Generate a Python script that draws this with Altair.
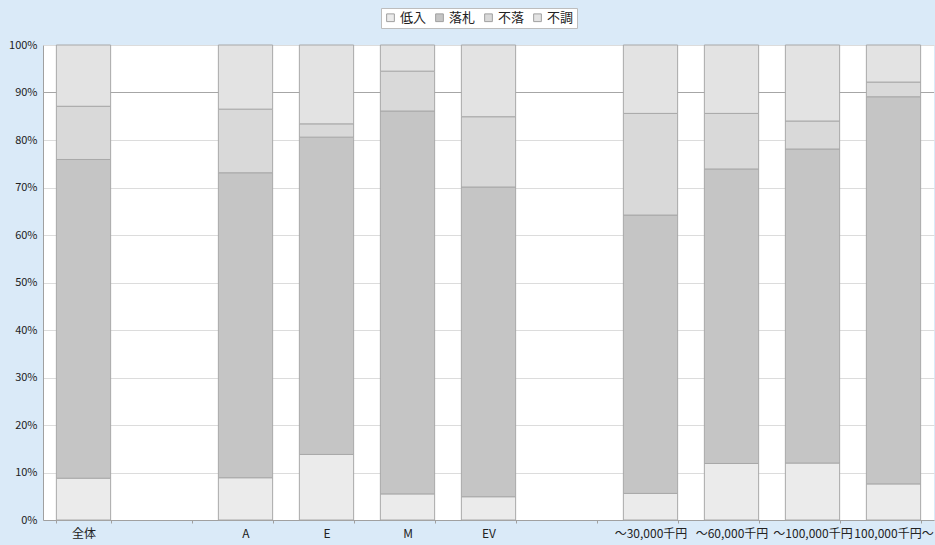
import altair as alt
import pandas as pd

# Categories along the x axis (blank slots separate the groups)
categories = ["全体", " ", "A", "E", "M", "EV", "  ",
              "～30,000千円", "～60,000千円", "～100,000千円", "100,000千円～"]
series = ["低入", "落札", "不落", "不調"]

# Shares per category (%), bottom to top: 低入, 落札, 不落, 不調
bar_categories = ["全体", "A", "E", "M", "EV",
                  "～30,000千円", "～60,000千円", "～100,000千円", "100,000千円～"]
teinyu = [8.8, 8.9, 13.8, 5.5, 4.9, 5.6, 11.9, 12.0, 7.6]
rakusatsu = [67.1, 64.2, 66.8, 80.6, 65.2, 58.6, 62.0, 66.1, 81.5]
furaku = [11.2, 13.4, 2.8, 8.4, 14.8, 21.4, 11.7, 5.9, 3.1]
fuchou = [12.9, 13.5, 16.6, 5.5, 15.1, 14.4, 14.4, 16.0, 7.8]

colors = ["#EBEBEB", "#C5C5C5", "#D9D9D9", "#E3E3E3"]

rows = []
for i, cat in enumerate(bar_categories):
    for k, (name, vals) in enumerate(zip(series, [teinyu, rakusatsu, furaku, fuchou])):
        rows.append({"category": cat, "series": name, "order": k, "share": vals[i] / 100})
df = pd.DataFrame(rows)

font = "Noto Sans CJK JP"

y_axis = alt.Axis(title=None, format=".0%", values=[i / 10 for i in range(11)],
                  labelFont=font, labelFontSize=11, labelColor="#222222",
                  ticks=False, labelPadding=6, domainColor="#A0A0A0",
                  grid=True, gridColor="#DCDCDC")
y_scale = alt.Scale(domain=[0, 1], nice=False)

# Emphasised 90% reference line, drawn beneath the bars
ref = alt.Chart(pd.DataFrame({"share": [0.9]})).mark_rule(color="#A6A6A6", strokeWidth=1).encode(
    y=alt.Y("share:Q", scale=y_scale, axis=y_axis)
)

bars = alt.Chart(df).mark_bar(stroke="#A8A8A8", strokeWidth=1).encode(
    x=alt.X("category:N", sort=categories,
            scale=alt.Scale(domain=categories, paddingInner=0.33, paddingOuter=0.165),
            axis=alt.Axis(title=None, labelAngle=0, labelFont=font, labelFontSize=12,
                          labelColor="#222222", labelPadding=5, tickBand="extent",
                          tickSize=3, tickColor="#A0A0A0", domainColor="#A0A0A0")),
    y=alt.Y("share:Q", stack="zero", scale=y_scale, axis=y_axis),
    color=alt.Color("series:N", sort=series,
                    scale=alt.Scale(domain=series, range=colors),
                    legend=alt.Legend(title=None, orient="none", legendX=338, legendY=-37,
                                      direction="horizontal", fillColor="white",
                                      strokeColor="#BDBDBD", padding=3,
                                      symbolType="square", symbolSize=60,
                                      symbolStrokeColor="#A0A0A0", symbolStrokeWidth=1,
                                      labelFont=font, labelFontSize=13, labelColor="#222222",
                                      columnPadding=6, labelOffset=3)),
    order=alt.Order("order:Q"),
)

chart = alt.layer(ref, bars).properties(
    width=891, height=475,
    background="#DAEAF8",
    padding={"left": 43, "top": 45, "right": 1, "bottom": 25},
    autosize=alt.AutoSizeParams(type="none"),
).configure_view(fill="white", stroke=None)

chart.save("out.html", embed_options={"renderer": "svg", "actions": False})
